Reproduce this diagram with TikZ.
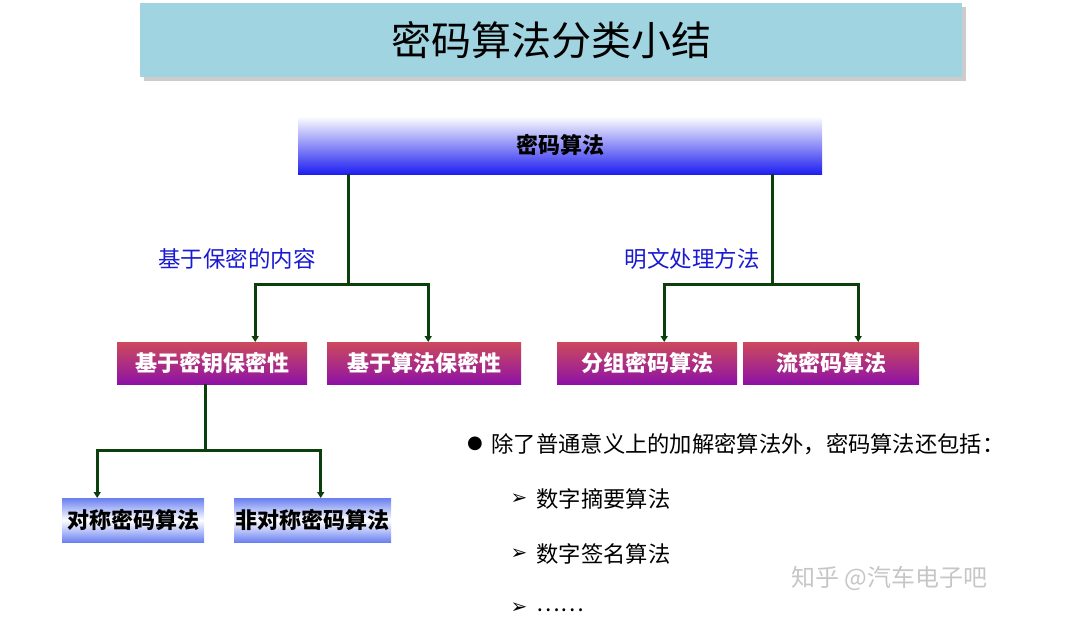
\documentclass[tikz,border=0pt]{standalone}
\usepackage{fontspec}
\setmainfont{Noto Sans CJK SC}
\newfontfamily\symf{DejaVu Sans}
\usetikzlibrary{arrows.meta}
\definecolor{titlebg}{HTML}{9FD4E0}
\definecolor{lnk}{HTML}{0B3F0B}
\definecolor{topblue}{HTML}{1E1EF0}
\definecolor{redtop}{HTML}{CC4A5C}
\definecolor{purp}{HTML}{8E12A6}
\definecolor{lblue}{HTML}{6A80F0}
\definecolor{lab}{HTML}{1A1AD0}
\tikzset{
 x=1pt,y=-1pt,
 boxbase/.style={anchor=north west,inner sep=0pt,font=\bfseries},
 redbox/.style={boxbase,top color=redtop,bottom color=purp,text=white,font=\bfseries\fontsize{22}{24}\selectfont},
 bluebox/.style={boxbase,top color=lblue,bottom color=lblue,middle color=white,text=black,font=\bfseries\fontsize{22}{24}\selectfont},
 link/.style={draw=lnk,line width=3pt},
 arr/.style={link,-{Triangle[length=6pt,width=7pt]}},
 lbl/.style={text=lab,font=\fontsize{22.5}{24}\selectfont},
 body/.style={anchor=west,font=\fontsize{22.3}{24}\selectfont,text=black},
 bul/.style={font=\symf\fontsize{20}{22}\selectfont},
}
\begin{document}
\begin{tikzpicture}
\useasboundingbox (0,0) rectangle (1080,623);
\fill[gray!40] (144,7) rectangle (966,81);
\node[boxbase,fill=titlebg,minimum width=822pt,minimum height=74pt,font=\fontsize{40}{44}\selectfont] (title) at (140,3) {密码算法分类小结};
\node[boxbase,top color=white,bottom color=topblue,minimum width=524pt,minimum height=58pt,font=\bfseries\fontsize{22}{24}\selectfont] (root) at (298,116) {密码算法};
\node[redbox,minimum width=190pt,minimum height=42pt] (k) at (117,342) {基于密钥保密性};
\node[redbox,minimum width=194pt,minimum height=42pt] (a) at (327,342) {基于算法保密性};
\node[redbox,minimum width=180pt,minimum height=42pt] (g) at (557,342) {分组密码算法};
\node[redbox,minimum width=176pt,minimum height=42pt] (s) at (743,342) {流密码算法};
\node[bluebox,minimum width=142pt,minimum height=44pt] (sym) at (62,498) {对称密码算法};
\node[bluebox,minimum width=157pt,minimum height=44pt] (asym) at (234,498) {非对称密码算法};
\coordinate (j1) at (348,284);
\coordinate (j2) at (772,284);
\coordinate (j3) at (205,450);
\draw[link] (root.south -| j1) -- (j1);
\draw[link] (root.south -| j2) -- (j2);
\draw[link] (k.south -| j3) -- (j3);
\draw[arr] (j1) -| ([xshift=43pt]k.north);
\draw[arr] (j1) -| ([xshift=4pt]a.north);
\draw[arr] (j2) -| ([xshift=17pt]g.north);
\draw[arr] (j2) -| ([xshift=27pt]s.north);
\draw[arr] (j3) -| ([xshift=-36pt]sym.north);
\draw[arr] (j3) -| ([xshift=8pt]asym.north);
\node[lbl] (l1) at (237,259) {基于保密的内容};
\node[lbl] (l2) at (692,259) {明文处理方法};
\node[bul,font=\symf\fontsize{18}{20}\selectfont] (b0) at (475,444) {●};
\node[body] (t0) at (488,444) {除了普通意义上的加解密算法外，密码算法还包括：};
\node[bul] (b1) at (519,499) {➢};
\node[body] (t1) at (533,499) {数字摘要算法};
\node[bul] (b2) at (519,554) {➢};
\node[body] (t2) at (533,554) {数字签名算法};
\node[bul] (b3) at (519,608) {➢};
\node[body] (t3) at (533,610) {……};
\node[anchor=west,text=gray!45,font=\fontsize{24}{26}\selectfont] (wm) at (788,578) {知乎 @汽车电子吧};
\end{tikzpicture}
\end{document}
